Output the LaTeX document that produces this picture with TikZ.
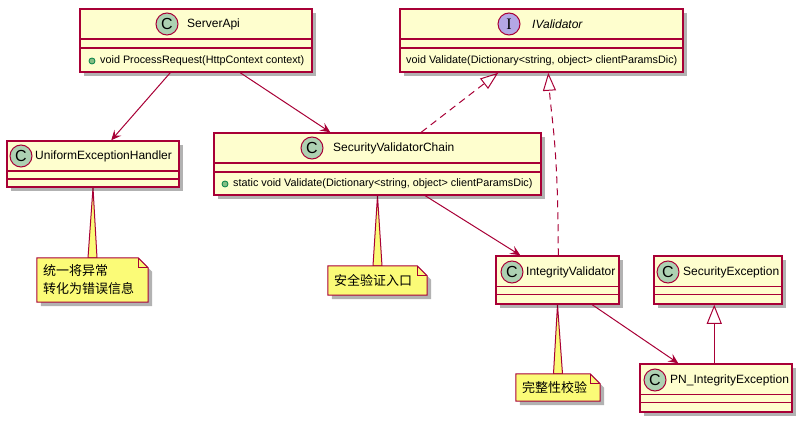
\documentclass[tikz,border=0pt]{standalone}
\usepackage{fontspec}
\setmainfont{Liberation Sans}
\newfontfamily\cjk{Noto Sans CJK SC}
\newfontfamily\serifI{Liberation Serif}
\usetikzlibrary{arrows.meta,shadows,backgrounds}

\definecolor{umlred}{HTML}{A80036}
\definecolor{classbg}{HTML}{FEFECE}
\definecolor{notebg}{HTML}{FBFB77}
\definecolor{circC}{HTML}{ADD1B2}
\definecolor{circI}{HTML}{B4A7E5}
\definecolor{bulletfill}{HTML}{84BE84}
\definecolor{bulletline}{HTML}{038048}

\tikzset{
  umlshadow/.style={drop shadow={shadow xshift=4pt, shadow yshift=-4pt, opacity=0.3, fill=black}},
  umlclass/.style={draw=umlred, fill=classbg, line width=1.5pt, inner sep=0pt, umlshadow},
  umlnote/.style={draw=umlred, fill=notebg, line width=1pt, line join=miter},
  notetext/.style={inner xsep=6pt, inner ysep=0pt, align=left, font=\cjk\fontsize{13}{18}\selectfont},
  sepline/.style={draw=umlred, line width=1.5pt},
  headcirc/.style={circle, draw=umlred, line width=1pt, minimum size=22pt, inner sep=0pt, font=\fontsize{16}{16}\selectfont},
  classname/.style={anchor=west, inner sep=0pt, font=\fontsize{12}{14}\selectfont},
  member/.style={anchor=west, inner sep=0pt, font=\fontsize{10.8}{13}\selectfont},
  bullet/.style={circle, draw=bulletline, fill=bulletfill, line width=0.8pt, minimum size=6pt, inner sep=0pt},
  assoc/.style={draw=umlred, line width=1pt, -{Stealth[length=10pt, width=9pt, inset=4pt]}},
  realize/.style={draw=umlred, line width=1pt, dash pattern=on 7pt off 5pt, -{Triangle[open, length=18pt, width=13pt]}},
  inherit/.style={draw=umlred, line width=1pt, -{Triangle[open, length=19pt, width=15pt]}},
}

\begin{document}
\begin{tikzpicture}[x=1pt, y=-1pt]
  \useasboundingbox (0,0) rectangle (808,422);

  % Classes
  \node[umlclass, minimum width=232pt, minimum height=63pt] (sa) at (196,40.5) {};
  \node[umlclass, minimum width=283pt, minimum height=63pt] (iva) at (541.5,40.5) {};
  \node[umlclass, minimum width=172pt, minimum height=46pt] (ueh) at (93,164) {};
  \node[umlclass, minimum width=327pt, minimum height=62pt] (svc) at (377.5,164) {};
  \node[umlclass, minimum width=123pt, minimum height=48pt] (iv) at (557.5,280) {};
  \node[umlclass, minimum width=128pt, minimum height=48pt] (se) at (718,280) {};
  \node[umlclass, minimum width=152pt, minimum height=48pt] (pnie) at (716,388) {};

  % Compartment lines
  \foreach \n/\b in {sa/40, iva/40, svc/40, ueh/39, iv/39, se/39, pnie/39} {
    \draw[sepline] ([yshift=-31pt]\n.north west) -- ([yshift=-31pt]\n.north east);
    \draw[sepline] ([yshift=-\b pt]\n.north west) -- ([yshift=-\b pt]\n.north east);
  }

  % Headers
  \node[headcirc, fill=circC] (saC) at (167,24) {C};
  \node[classname] (saN) at (187,24) {ServerApi};
  \node[headcirc, fill=circI, font=\serifI\fontsize{16}{16}\selectfont] (ivaI) at (509,24) {I};
  \node[classname, font=\itshape\fontsize{12}{14}\selectfont] (ivaN) at (532,24) {IValidator};
  \node[headcirc, fill=circC] (uehC) at (21,156) {C};
  \node[classname] (uehN) at (35,156) {UniformExceptionHandler};
  \node[headcirc, fill=circC] (svcC) at (312,148) {C};
  \node[classname] (svcN) at (333,148) {SecurityValidatorChain};
  \node[headcirc, fill=circC] (ivC) at (512,272) {C};
  \node[classname] (ivN) at (526,272) {IntegrityValidator};
  \node[headcirc, fill=circC] (seC) at (668,272) {C};
  \node[classname] (seN) at (683,272) {SecurityException};
  \node[headcirc, fill=circC] (pnC) at (655,380) {C};
  \node[classname] (pnN) at (670,380) {PN\_IntegrityException};

  % Members
  \node[bullet] (saB) at (92,61) {};
  \node[member] (saM) at (100,61) {void ProcessRequest(HttpContext context)};
  \node[member] (ivaM) at (406,61) {void Validate(Dictionary<string, object> clientParamsDic)};
  \node[bullet] (svcB) at (225,184) {};
  \node[member] (svcM) at (233,184) {static void Validate(Dictionary<string, object> clientParamsDic)};

  % Notes
  \node[notetext, text width=99pt, minimum height=44pt] (n1) at (92.5,280) {统一将异常\\转化为错误信息};
  \node[notetext, text width=87pt, minimum height=29pt] (n2) at (377.5,280.5) {安全验证入口};
  \node[notetext, text width=72pt, minimum height=27pt] (n3) at (558,387.5) {完整性校验};

  \begin{scope}[on background layer]
    \foreach \c/\n in {ueh/n1, svc/n2, iv/n3} {
      \filldraw[umlnote] (\c.south) -- ([xshift=-4.5pt]\n.north) -- ([xshift=4.5pt]\n.north) -- cycle;
      \filldraw[umlnote, umlshadow] (\n.north west) -- ([xshift=-10pt]\n.north east)
        -- ([yshift=-10pt]\n.north east) -- (\n.south east) -- (\n.south west) -- cycle;
      \draw[umlnote, fill=none] ([xshift=-10pt]\n.north east) |- ([yshift=-10pt]\n.north east);
    }
  \end{scope}

  % Relations
  \draw[assoc] ([xshift=91pt]sa.south west) -- ([xshift=105pt]ueh.north west);
  \draw[assoc] ([xshift=161pt]sa.south west) -- ([xshift=117pt]svc.north west);
  \draw[realize] ([xshift=208pt]svc.north west) -- ([xshift=99pt]iva.south west);
  \draw[realize] ([xshift=63pt]iv.north west) .. controls ([xshift=63pt, yshift=110pt]iv.north west)
    and ([xshift=152pt, yshift=-45pt]iva.south west) .. ([xshift=149pt]iva.south west);
  \draw[assoc] ([xshift=212pt]svc.south west) -- ([xshift=25pt]iv.north west);
  \draw[assoc] ([xshift=97pt]iv.south west) -- ([xshift=39pt]pnie.north west);
  \draw[inherit] ([xshift=75pt]pnie.north west) -- ([xshift=61pt]se.south west);
\end{tikzpicture}
\end{document}
